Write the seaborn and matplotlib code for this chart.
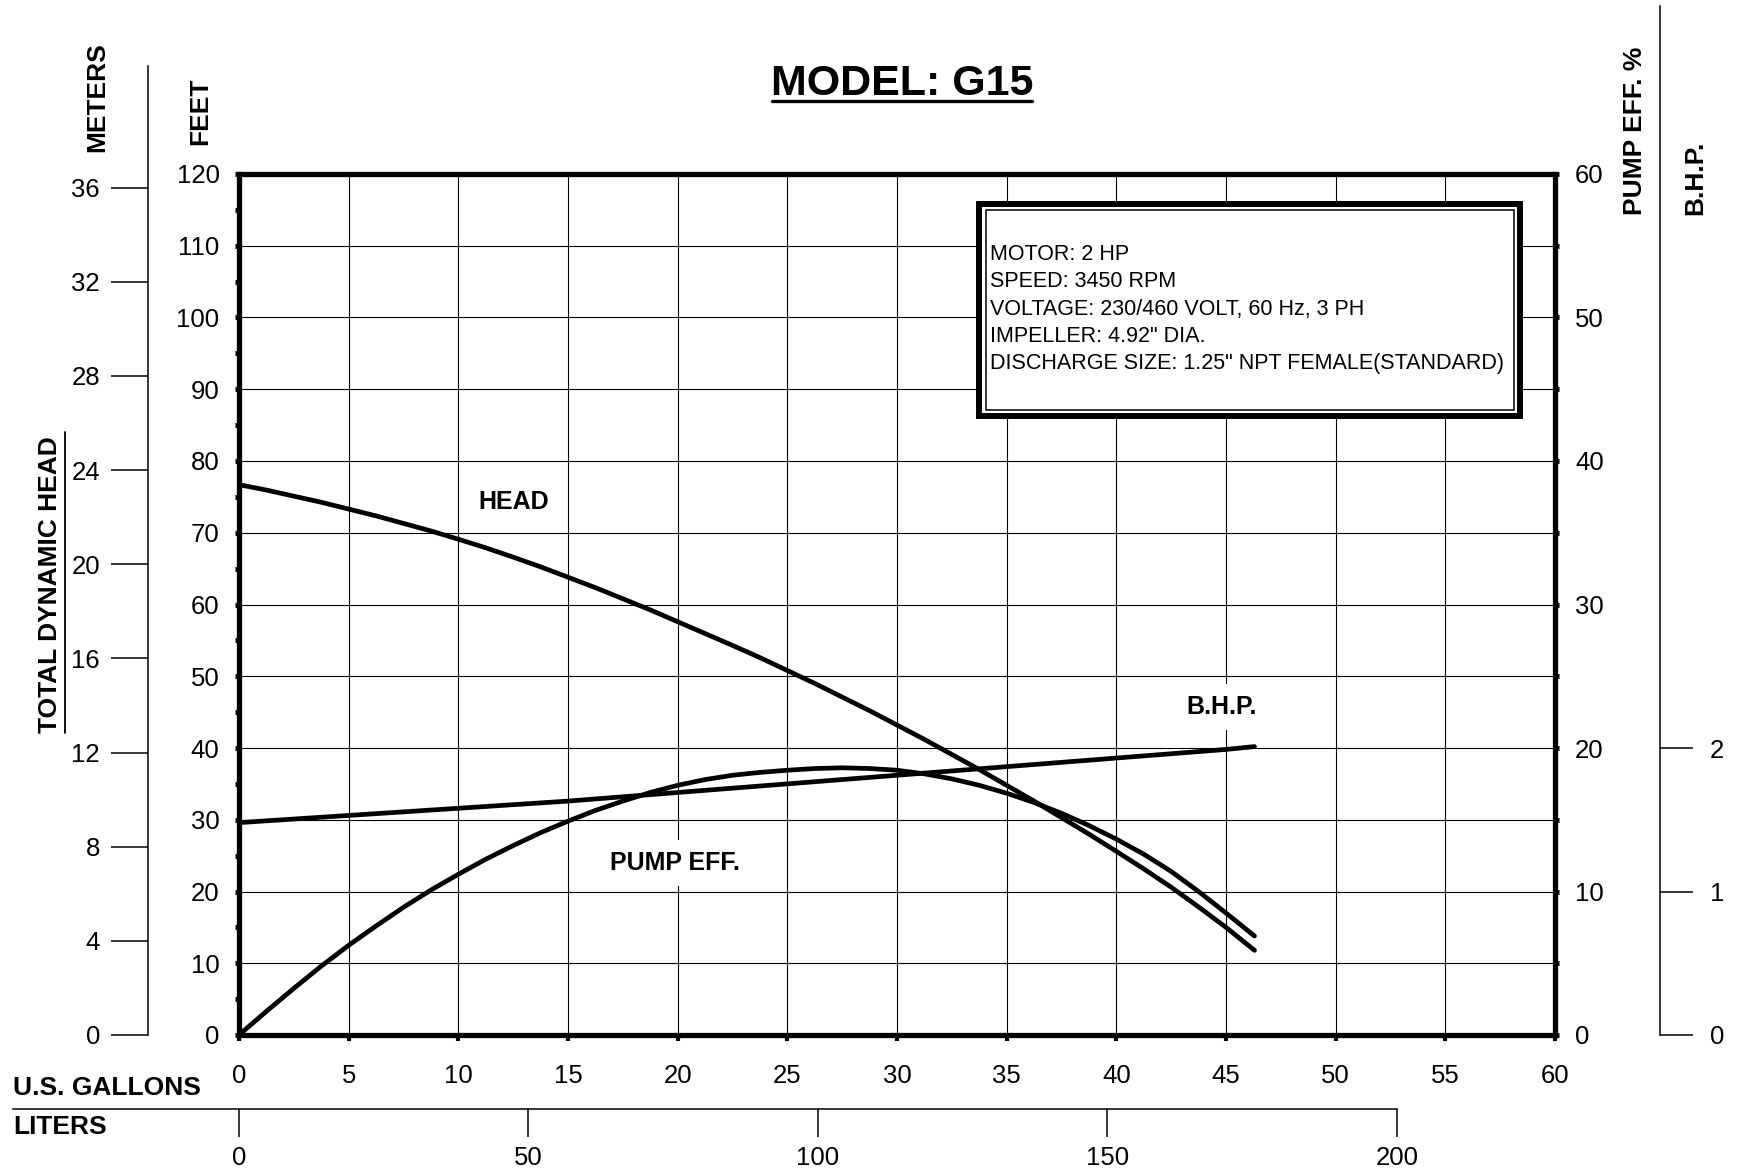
import numpy as np
import pandas as pd
import seaborn as sns
import matplotlib.pyplot as plt
from matplotlib.lines import Line2D
from matplotlib.patches import Rectangle

# values
gpm = [0, 1.25, 2.5, 3.75, 5, 6.25, 7.5, 8.75, 10, 11.25, 12.5, 13.75, 15, 16.25, 17.5, 18.75,
       20, 21.25, 22.5, 23.75, 25, 26.25, 27.5, 28.75, 30, 31.25, 32.5, 33.75, 35, 36.25,
       37.5, 38.75, 40, 41.25, 42.5, 43.75, 45, 46.3]
head_ft = [76.7, 75.95, 75.1, 74.25, 73.3, 72.35, 71.3, 70.25, 69.1, 67.9, 66.6, 65.25, 63.8,
           62.35, 60.8, 59.25, 57.6, 55.95, 54.3, 52.6, 50.8, 49.0, 47.1, 45.2, 43.2, 41.2,
           39.1, 37.0, 34.8, 32.6, 30.3, 28.0, 25.6, 23.15, 20.6, 17.85, 15.0, 11.8]
eff_pct = [0, 1.65, 3.25, 4.8, 6.25, 7.6, 8.9, 10.1, 11.2, 12.25, 13.2, 14.1, 14.9, 15.65, 16.3,
           16.9, 17.4, 17.8, 18.1, 18.3, 18.45, 18.57, 18.62, 18.57, 18.45, 18.2, 17.85, 17.4,
           16.85, 16.2, 15.45, 14.6, 13.65, 12.6, 11.4, 10.0, 8.5, 6.9]

gpm_bhp = [0, 2.5, 5, 7.5, 10, 12.5, 15, 17.5, 20, 22.5, 25, 27.5, 30, 32.5, 35, 37.5, 40,
           42.5, 45, 46.3]
bhp = [1.48, 1.505, 1.53, 1.555, 1.58, 1.605, 1.63, 1.66, 1.69, 1.72, 1.75, 1.78, 1.81, 1.84,
       1.87, 1.90, 1.93, 1.96, 1.99, 2.01]

gal_ticks = list(range(0, 61, 5))
feet_ticks = list(range(0, 121, 10))
eff_ticks = list(range(0, 61, 10))
meter_ticks = list(range(0, 37, 4))
bhp_ticks = [0, 1, 2]
liter_ticks = [0, 50, 100, 150, 200]

info_lines = ["MOTOR: 2 HP",
              "SPEED: 3450 RPM",
              "VOLTAGE: 230/460 VOLT, 60 Hz, 3 PH",
              'IMPELLER: 4.92" DIA.',
              'DISCHARGE SIZE: 1.25" NPT FEMALE(STANDARD)']

FT_PER_M = 3.281
L_PER_GAL = 3.785

df = pd.DataFrame({"gpm": gpm, "head": head_ft, "eff": eff_pct})
df_bhp = pd.DataFrame({"gpm": gpm_bhp, "bhp": bhp})

sns.set_style("white")
plt.rcParams["font.family"] = ["Liberation Sans", "DejaVu Sans"]
for k in ["text.color", "axes.labelcolor", "xtick.color", "ytick.color", "axes.edgecolor"]:
    plt.rcParams[k] = "black"
plt.rcParams["xtick.bottom"] = True
plt.rcParams["ytick.left"] = True

W, H = 1739, 1170
fx = lambda px: px / W
fy = lambda py: 1 - py / H

# main plot box in pixels
X0, X1, Y0, Y1 = 239, 1555, 1035, 174
PX_PER_GPM = (X1 - X0) / 60
PX_PER_FT = (Y0 - Y1) / 120

fig = plt.figure(figsize=(W / 100, H / 100), dpi=100)
ax = fig.add_axes([fx(X0), fy(Y0), (X1 - X0) / W, (Y0 - Y1) / H])
ax2 = ax.twinx()
ax3 = ax.twinx()

sns.lineplot(data=df, x="gpm", y="head", ax=ax, color="black", lw=3.4, solid_capstyle="round")
sns.lineplot(data=df, x="gpm", y="eff", ax=ax2, color="black", lw=3.4, solid_capstyle="round")
sns.lineplot(data=df_bhp, x="gpm", y="bhp", ax=ax3, color="black", lw=3.4, solid_capstyle="round")

ax.set_xlim(0, 60)
ax.set_ylim(0, 120)
ax2.set_ylim(0, 60)
ax3.set_ylim(0, 6)
for a in (ax, ax2, ax3):
    a.set_xlabel("")
    a.set_ylabel("")

ax.set_xticks(gal_ticks)
ax.set_yticks(feet_ticks)
ax.set_yticks(range(5, 120, 10), minor=True)
ax.grid(True, which="major", color="black", lw=0.8)
ax.set_axisbelow(True)
for s in ax.spines.values():
    s.set_linewidth(3.8)
    s.set_color("black")
ax.tick_params(axis="y", which="both", left=True, direction="out", length=3, width=3.5,
               pad=11, labelsize=18.5)
ax.tick_params(axis="x", which="both", bottom=True, direction="out", length=4, width=3,
               pad=17, labelsize=18.5)

ax2.set_yticks(eff_ticks)
ax2.set_yticks(range(5, 60, 10), minor=True)
for s in ax2.spines.values():
    s.set_visible(False)
ax2.tick_params(axis="y", which="both", right=True, direction="out", length=3, width=3.5,
                pad=11.5, labelsize=18.5)

ax3.yaxis.set_visible(False)
for s in ax3.spines.values():
    s.set_visible(False)

# info box
bx0, bx1 = (976 - X0) / PX_PER_GPM, (1523 - X0) / PX_PER_GPM
by1, by0 = (Y0 - 201) / PX_PER_FT, (Y0 - 419) / PX_PER_FT
dx, dy = 3 / PX_PER_GPM, 3 / PX_PER_FT
ax.add_patch(Rectangle((bx0 + dx, by0 + dy), bx1 - bx0 - 2 * dx, by1 - by0 - 2 * dy,
                       fc="white", ec="black", lw=4.3, zorder=4))
dx2, dy2 = 9.5 / PX_PER_GPM, 9.5 / PX_PER_FT
ax.add_patch(Rectangle((bx0 + dx2, by0 + dy2), bx1 - bx0 - 2 * dx2, by1 - by0 - 2 * dy2,
                       fc="none", ec="black", lw=1.1, zorder=4))
line_y = [255, 282, 309.5, 336.5, 363.5]
for txt, py in zip(info_lines, line_y):
    ax.text((990 - X0) / PX_PER_GPM, (Y0 - py) / PX_PER_FT, txt, fontsize=15.5,
            va="center", ha="left", zorder=5)

# curve labels
lab = dict(fontsize=18, weight="bold", ha="center", va="center", zorder=5,
           bbox=dict(boxstyle="square,pad=0.45", fc="white", ec="none"))
ax.text(12.54, 74.3, "HEAD", **lab)
ax.text(19.88, 24.0, "PUMP EFF.", **lab)
ax.text(44.8, 45.7, "B.H.P.", **lab)

# meters scale
axm = fig.add_axes([fx(148), fy(Y0), 0.0005, (Y0 - 66) / H])
axm.set_ylim(0, (Y0 - 66) / PX_PER_FT / FT_PER_M)
axm.set_yticks(meter_ticks)
axm.xaxis.set_visible(False)
axm.patch.set_visible(False)
for k, s in axm.spines.items():
    s.set_visible(k == "left")
    s.set_linewidth(1.1)
axm.tick_params(axis="y", left=True, right=False, direction="out", length=26.5, width=1.1,
                pad=8, labelsize=18.5)

# B.H.P. scale
axb = fig.add_axes([fx(1660) - 0.0005, fy(Y0), 0.0005, (Y0 - 6) / H])
axb.set_ylim(0, 6 * (Y0 - 6) / (Y0 - Y1))
axb.set_yticks(bhp_ticks)
axb.yaxis.tick_right()
axb.xaxis.set_visible(False)
axb.patch.set_visible(False)
for k, s in axb.spines.items():
    s.set_visible(k == "right")
    s.set_linewidth(1.1)
axb.tick_params(axis="y", direction="out", length=24, width=1.1, pad=12, labelsize=18.5)

# liters scale
axl = fig.add_axes([fx(13), fy(1109), (1397 - 13) / W, 0.0005])
axl.set_xlim((13 - X0) / PX_PER_GPM * L_PER_GAL, (1397 - X0) / PX_PER_GPM * L_PER_GAL)
axl.set_xticks(liter_ticks)
axl.yaxis.set_visible(False)
axl.patch.set_visible(False)
for k, s in axl.spines.items():
    s.set_visible(k == "bottom")
    s.set_linewidth(1.1)
axl.tick_params(axis="x", bottom=True, top=False, direction="out", length=20, width=1.1,
                pad=6.5, labelsize=18.5)

# titles and axis names
fig.text(fx(902), fy(95), "MODEL: G15", ha="center", va="baseline", fontsize=31, weight="bold")
fig.add_artist(Line2D([fx(772), fx(1032)], [fy(101), fy(101)], color="black", lw=2.4))

bold = dict(fontsize=19, weight="bold", rotation=90, ha="center", va="bottom")
fig.text(fx(97), fy(152), "METERS", **bold)
fig.text(fx(200), fy(145), "FEET", **bold)
fig.text(fx(50), fy(733), "TOTAL DYNAMIC HEAD", **bold)
fig.add_artist(Line2D([fx(65), fx(65)], [fy(432), fy(733)], color="black", lw=1.3))
fig.text(fx(1635), fy(215), "PUMP EFF. %", **bold)
fig.text(fx(1695), fy(215), "B.H.P.", **bold)

fig.text(fx(13), fy(1088), "U.S. GALLONS", fontsize=19, weight="bold", ha="left", va="center")
fig.text(fx(13), fy(1127), "LITERS", fontsize=19, weight="bold", ha="left", va="center")

fig.savefig("out.png", dpi=100)
